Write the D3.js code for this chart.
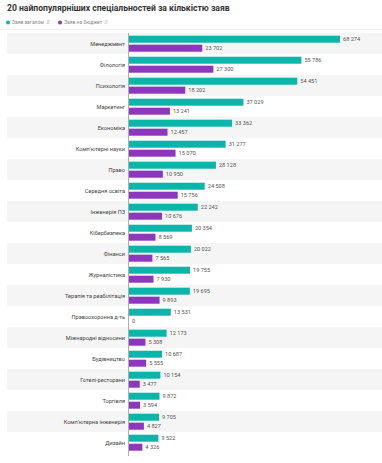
<!DOCTYPE html>
<html><head><meta charset="utf-8">
<script src="https://cdn.jsdelivr.net/npm/d3@7"></script>
<style>body{margin:0;background:#fff;font-family:Roboto,"Noto Sans",sans-serif}</style>
</head><body><svg id="c" width="382" height="463"></svg>
<script>
const categories=["Менеджмент","Філологія","Психологія","Маркетинг","Економіка","Комп'ютерні науки","Право","Середня освіта","Інженерія ПЗ","Кібербезпека","Фінанси","Журналістика","Терапія та реабілітація","Правоохоронна д-ть","Міжнародні відносини","Будівництво","Готелі-ресторани","Торгівля","Комп'ютерна інженерія","Дизайн"];
const total=[68274,55786,54451,37029,33362,31277,28128,24508,22242,20354,20022,19755,19695,13531,12173,10687,10154,9872,9705,9522];
const budget=[23702,27300,18202,13241,12457,15070,10950,15756,10676,8569,7565,7930,9893,0,5308,5555,3477,3594,4827,4326];
const seriesNames=["Заяв загалом","Заяв на бюджет"];
const colors=["#0bb5a9","#8c37bd"];

const svg=d3.select("#c");
svg.append("text").attr("x",7).attr("y",11).attr("font-size",8.6).attr("font-weight","bold").attr("fill","#333").text("20 найпопулярніших спеціальностей за кількістю заяв");

const lg=svg.append("g");
let lx=8;
seriesNames.forEach((n,i)=>{
  lg.append("circle").attr("cx",lx).attr("cy",22.5).attr("r",2).attr("fill",colors[i]);
  const t=lg.append("text").attr("x",lx+4).attr("y",24.3).attr("font-size",5).attr("fill","#888").text(n);
  const w=t.node().getComputedTextLength();
  lg.append("text").attr("x",lx+6+w).attr("y",24.3).attr("font-size",5).attr("fill","#bbb").text("⇵");
  lx+=w+20;
});
svg.append("line").attr("x1",0).attr("x2",382).attr("y1",29.5).attr("y2",29.5).attr("stroke","#eee");

const x=d3.scaleLinear().domain([0,68274]).range([129,340]);
const y=d3.scaleBand().domain(categories).range([33,453]).padding(0);
const fmt=v=>d3.format(",")(v).replace(/,/g," ");

const rows=svg.append("g").selectAll("g").data(categories).join("g").attr("transform",d=>`translate(0,${y(d)})`);
rows.append("rect").attr("x",7).attr("width",375).attr("height",y.bandwidth()).attr("fill",(d,i)=>i%2===0?"#f5f5f5":"#fff");
rows.append("text").attr("x",125).attr("y",y.bandwidth()/2+2).attr("text-anchor","end").attr("font-size",5.6).attr("fill","#444").text(d=>d);

[total,budget].forEach((arr,s)=>{
  const off=s===0?2.7:11.7;
  rows.append("rect").attr("x",x(0)).attr("y",off).attr("height",7).attr("width",(d,i)=>Math.max(0,x(arr[i])-x(0))).attr("fill",colors[s]);
  rows.append("text").attr("x",(d,i)=>x(arr[i])+3).attr("y",off+5.6).attr("font-size",5.6).attr("fill","#555").text((d,i)=>fmt(arr[i]));
});

svg.append("line").attr("x1",128.5).attr("x2",128.5).attr("y1",33).attr("y2",456).attr("stroke","#999").attr("stroke-width",0.8);
</script></body></html>
